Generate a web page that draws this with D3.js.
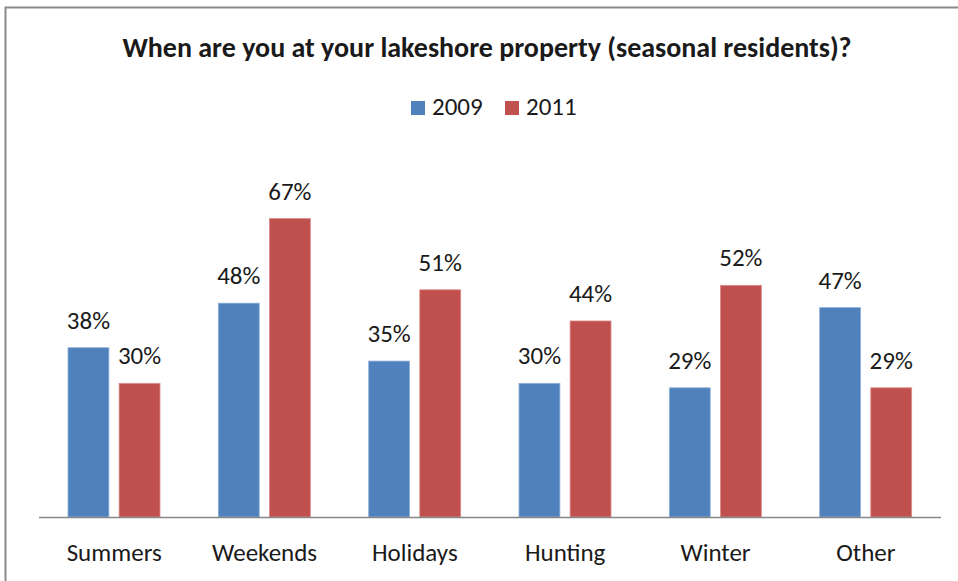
<!DOCTYPE html>
<html>
<head>
<meta charset="utf-8">
<script src="https://cdn.jsdelivr.net/npm/d3@7"></script>
<style>
  html, body { margin: 0; padding: 0; background: #fff; }
  svg { display: block; }
  text { font-family: Carlito, Lato, "Open Sans", sans-serif; fill: #1a1a1a; }
</style>
</head>
<body>
<svg id="chart" width="958" height="581"></svg>
<script>
// Survey responses: when seasonal residents are at their lakeshore property
const categories = ["Summers", "Weekends", "Holidays", "Hunting", "Winter", "Other"];
const seriesNames = ["2009", "2011"];
const values2009 = [38, 48, 35, 30, 29, 47];
const values2011 = [30, 67, 51, 44, 52, 29];
const seriesColors = ["#4F81BD", "#C0504D"];
const titleText = "When are you at your lakeshore property (seasonal residents)?";

const svg = d3.select("#chart");
const W = 958, H = 581;
const baseY = 517;
const labelSize = 25;

// chart frame (left and top edges visible)
svg.append("path")
  .attr("d", `M5.5,${H} L5.5,7.5 L${W},7.5`)
  .attr("fill", "none")
  .attr("stroke", "#8a8a8a")
  .attr("stroke-width", 2);

const x0 = d3.scaleBand().domain(categories).range([39, 941]);
const x1 = d3.scaleBand().domain(seriesNames).range([29, 121]).paddingInner(0.2);
const y = d3.scaleLinear().domain([0, 80]).range([baseY, baseY - 80 * 4.455]);

const rows = categories.map((c, i) => ({ cat: c, vals: [values2009[i], values2011[i]] }));

const groups = svg.append("g").selectAll("g")
  .data(rows).join("g")
  .attr("transform", d => `translate(${x0(d.cat)},0)`);

groups.selectAll("rect")
  .data(d => d.vals.map((v, k) => ({ key: seriesNames[k], v, k })))
  .join("rect")
  .attr("x", d => x1(d.key))
  .attr("width", x1.bandwidth())
  .attr("y", d => y(d.v))
  .attr("height", d => baseY - y(d.v))
  .attr("fill", d => seriesColors[d.k])
  .attr("stroke", d => d.k === 0 ? "#8fb0d8" : "#dc8c8a")
  .attr("stroke-width", 0.8);

groups.selectAll("text.val")
  .data(d => d.vals.map((v, k) => ({ key: seriesNames[k], v, k })))
  .join("text")
  .attr("class", "val")
  .attr("x", d => x1(d.key) + x1.bandwidth() / 2)
  .attr("y", d => y(d.v) - 19)
  .attr("text-anchor", "middle")
  .attr("font-size", labelSize)
  .attr("font-weight", 300)
  .text(d => d.v + "%");

// category axis
const xAxis = svg.append("g")
  .attr("transform", `translate(0,${baseY})`)
  .call(d3.axisBottom(x0).tickSize(0).tickPadding(26));
xAxis.select(".domain").attr("stroke", "#868686").attr("stroke-width", 1.5)
  .attr("d", `M39,0.5H941`);
xAxis.selectAll("text")
  .attr("font-size", labelSize)
  .attr("font-weight", 300)
  .attr("fill", "#1a1a1a")
  .style("font-family", "Carlito, Lato, 'Open Sans', sans-serif");

// title
svg.append("text")
  .attr("x", 487).attr("y", 57)
  .attr("text-anchor", "middle")
  .attr("font-size", 28)
  .attr("font-weight", "bold")
  .text(titleText);

// legend
const legend = svg.append("g").selectAll("g")
  .data(seriesNames).join("g")
  .attr("transform", (d, i) => `translate(${411 + i * 94},101)`);
legend.append("rect")
  .attr("width", 14).attr("height", 14)
  .attr("fill", (d, i) => seriesColors[i]);
legend.append("text")
  .attr("x", 21).attr("y", 14)
  .attr("font-size", labelSize)
  .attr("font-weight", 300)
  .text(d => d);
</script>
</body>
</html>
